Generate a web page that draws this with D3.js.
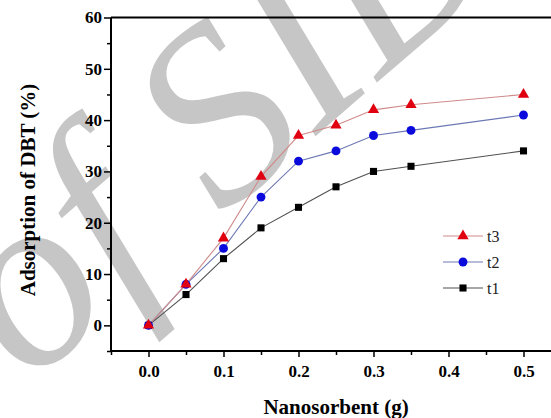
<!DOCTYPE html>
<html><head><meta charset="utf-8"><script src="https://cdn.jsdelivr.net/npm/d3@7"></script></head>
<body style="margin:0">
<svg id="chart" width="551" height="418"></svg>
<script>
// ---- data ----
const xValues = [0, 0.05, 0.1, 0.15, 0.2, 0.25, 0.3, 0.35, 0.5];
const t1 = [0, 6, 13, 19, 23, 27, 30, 31, 34];
const t2 = [0, 8, 15, 25, 32, 34, 37, 38, 41];
const t3 = [0, 8, 17, 29, 37, 39, 42, 43, 45];
const seriesNames = ["t1", "t2", "t3"];
const xTicks = [0, 0.1, 0.2, 0.3, 0.4, 0.5];
const xMinorTicks = [-0.05, 0.05, 0.15, 0.25, 0.35, 0.45];
const yTicks = [0, 10, 20, 30, 40, 50, 60];
const yMinorTicks = [-5, 5, 15, 25, 35, 45, 55];
const xTitle = "Nanosorbent (g)";
const yTitle = "Adsorption of DBT (%)";
const watermark = "of SID";

const FONT = '"Liberation Serif"';
const svg = d3.select("#chart");
const x = d3.scaleLinear().domain([-0.05, 0.55]).range([111, 561]);
const y = d3.scaleLinear().domain([-5, 60]).range([351, 17.5]);

function txt(sel, size, weight, italic) {
  return sel.style("font-family", FONT)
    .style("font-size", size + "px")
    .style("font-weight", weight || "normal")
    .style("font-style", italic ? "italic" : "normal");
}

// watermark (behind everything)
txt(svg.append("text")
  .attr("transform", "translate(28,386) rotate(-41)")
  .attr("fill", "#c6c6c6"), 250, "normal", true)
  .text(watermark);

// frame lines
const frame = svg.append("g").attr("stroke", "#000").attr("stroke-width", 2).attr("fill", "none");
frame.append("line").attr("x1", x(-0.05)).attr("x2", x(0.55)).attr("y1", y(60)).attr("y2", y(60));
frame.append("line").attr("x1", x(-0.05)).attr("x2", x(0.55)).attr("y1", y(-5)).attr("y2", y(-5));
frame.append("line").attr("x1", x(-0.05)).attr("x2", x(-0.05)).attr("y1", y(60)).attr("y2", y(-5));

// axes
const yAxis = svg.append("g").attr("transform", `translate(${x(-0.05)},0)`)
  .call(d3.axisLeft(y).tickValues(yTicks).tickSize(7).tickPadding(2).tickFormat(d3.format("d")));
const yMinor = svg.append("g").attr("transform", `translate(${x(-0.05)},0)`)
  .call(d3.axisLeft(y).tickValues(yMinorTicks).tickSize(4).tickFormat(""));
const xAxis = svg.append("g").attr("transform", `translate(0,${y(-5)})`)
  .call(d3.axisBottom(x).tickValues(xTicks).tickSize(6).tickPadding(8).tickFormat(d3.format(".1f")));
const xMinor = svg.append("g").attr("transform", `translate(0,${y(-5)})`)
  .call(d3.axisBottom(x).tickValues(xMinorTicks).tickSize(4).tickFormat(""));
[yAxis, yMinor, xAxis, xMinor].forEach(g => {
  g.attr("font-family", null).attr("font-size", null);
  g.select(".domain").remove();
  g.selectAll("line").attr("stroke", "#000").attr("stroke-width", 1.5);
  txt(g.selectAll("text"), 17, "bold").attr("fill", "#000");
});

// titles
txt(svg.append("text").attr("x", 336).attr("y", 414).attr("text-anchor", "middle"), 21, "bold").text(xTitle);
txt(svg.append("text").attr("transform", "translate(35,190) rotate(-90)").attr("text-anchor", "middle"), 21, "bold").text(yTitle);

// series
const series = [
  { name: seriesNames[0], vals: t1, line: "#505050", fill: "#000000", shape: d3.symbolSquare, size: 50 },
  { name: seriesNames[1], vals: t2, line: "#6c78b4", fill: "#0a0adc", shape: d3.symbolCircle, size: 62 },
  { name: seriesNames[2], vals: t3, line: "#d08a8a", fill: "#e00010", shape: d3.symbolTriangle, size: 55 }
];
const lineGen = d3.line().x(d => x(d[0])).y(d => y(d[1]));
series.forEach(s => {
  const pts = xValues.map((xv, i) => [xv, s.vals[i]]);
  svg.append("path").datum(pts).attr("d", lineGen)
    .attr("fill", "none").attr("stroke", s.line).attr("stroke-width", 1.1);
});
series.forEach(s => {
  const pts = xValues.map((xv, i) => [xv, s.vals[i]]);
  svg.append("g").selectAll("path").data(pts).join("path")
    .attr("transform", d => `translate(${x(d[0])},${y(d[1])})`)
    .attr("d", d3.symbol().type(s.shape).size(s.size))
    .attr("fill", s.fill);
});

// legend
const legendRows = [series[2], series[1], series[0]];
const leg = svg.append("g");
legendRows.forEach((s, i) => {
  const ly = 236 + i * 26;
  leg.append("line").attr("x1", 443).attr("x2", 483).attr("y1", ly).attr("y2", ly)
    .attr("stroke", s.line).attr("stroke-width", 1.1);
  leg.append("path").attr("transform", `translate(463,${ly})`)
    .attr("d", d3.symbol().type(s.shape).size(s.size)).attr("fill", s.fill);
  txt(leg.append("text").attr("x", 487).attr("y", ly + 6), 16, "normal").attr("fill", "#222").text(s.name);
});
</script></body></html>
